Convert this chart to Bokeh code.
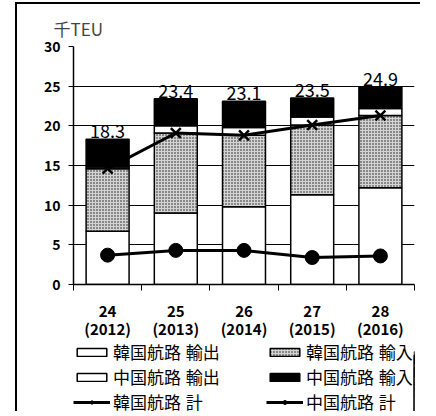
from bokeh.plotting import figure
from bokeh.layouts import column
from bokeh.models import (ColumnDataSource, FixedTicker, LinearAxis, Legend,
                          LegendItem, Range1d, Grid)
from bokeh.core.properties import value
from bokeh.embed import file_html
from bokeh.resources import INLINE

# ---- data (千TEU) ----
fiscal = ["24", "25", "26", "27", "28"]
years = ["(2012)", "(2013)", "(2014)", "(2015)", "(2016)"]
kor_exp = [6.7, 9.0, 9.8, 11.3, 12.2]   # 韓国航路 輸出
kor_imp = [7.9, 10.1, 9.0, 8.8, 9.1]    # 韓国航路 輸入
chn_exp = [0.2, 0.9, 1.0, 1.0, 0.9]     # 中国航路 輸出
chn_imp = [3.5, 3.4, 3.3, 2.4, 2.7]     # 中国航路 輸入
y_ticks = [0, 5, 10, 15, 20, 25, 30]

FONT = "Noto Sans CJK JP"
LEG_FONT = "'Liberation Sans', 'Noto Sans CJK JP'"
n = len(fiscal)
xs = [i + 0.5 for i in range(n)]
top1 = list(kor_exp)
top2 = [a + b for a, b in zip(top1, kor_imp)]
top3 = [a + b for a, b in zip(top2, chn_exp)]
top4 = [a + b for a, b in zip(top3, chn_imp)]
kor_total = [a + b for a, b in zip(kor_exp, kor_imp)]
chn_total = [a + b for a, b in zip(chn_exp, chn_imp)]

src = ColumnDataSource(dict(
    x=xs, b0=[0] * n, t1=top1, t2=top2, t3=top3, t4=top4,
    kt=kor_total, ct=chn_total, lab=[f"{v:.1f}" for v in top4]))

BAR_STYLES = [
    dict(fill_color="white", line_color="black", line_width=1.5),
    dict(fill_color="#d4d4d4", line_color="black", line_width=1.5,
         hatch_pattern="dot", hatch_color="black", hatch_scale=3,
         hatch_weight=1, hatch_alpha=0.9),
    dict(fill_color="white", line_color="black", line_width=1.5),
    dict(fill_color="black", line_color="black", line_width=1.5),
]
BOUNDS = [("b0", "t1"), ("t1", "t2"), ("t2", "t3"), ("t3", "t4")]
LINE_STYLE = dict(line_color="black", line_width=3)
X_STYLE = dict(marker="x", size=14, line_color="black", line_width=2.5)
DOT_STYLE = dict(marker="circle", size=14, fill_color="black", line_color="black")
W = 0.63

p = figure(width=405, height=337, x_range=Range1d(0, n), y_range=Range1d(0, 30),
           output_backend="svg", toolbar_location=None,
           x_axis_type=None, y_axis_type=None,
           min_border_left=50, min_border_right=8, min_border_top=42,
           min_border_bottom=57, title="千TEU")
p.outline_line_color = None
p.background_fill_color = "white"
p.border_fill_color = "white"
p.styles = {"border-left": "2px solid black", "border-top": "2px solid black",
            "margin-left": "15px", "margin-top": "2px"}
p.title.align = "left"
p.title.offset = -20
p.title.text_font = FONT
p.title.text_font_size = "17px"
p.title.text_font_style = "normal"
p.title.standoff = 12

# y axis
yax = LinearAxis(ticker=FixedTicker(ticks=y_ticks))
yax.axis_line_color = "black"
yax.axis_line_width = 1.5
yax.major_tick_out = 5
yax.major_tick_in = 0
yax.minor_tick_line_color = None
yax.major_label_standoff = 8
yax.major_label_text_font = FONT
yax.major_label_text_font_size = "14px"
yax.major_label_text_font_style = "bold"
yax.major_label_text_color = "black"
p.add_layout(yax, "left")
p.add_layout(Grid(dimension=1, ticker=yax.ticker, grid_line_color="black",
                  grid_line_width=1))

# x axes (two label rows)
xax = LinearAxis(ticker=FixedTicker(ticks=xs, minor_ticks=list(range(n + 1))),
                 major_label_overrides={x: l for x, l in zip(xs, fiscal)})
xax.axis_line_color = "black"
xax.axis_line_width = 1.5
xax.major_tick_out = 0
xax.major_tick_in = 0
xax.minor_tick_out = 6
xax.minor_tick_in = 0
xax.minor_tick_line_color = "black"
xax.major_label_standoff = 15
xax.major_label_text_font = FONT
xax.major_label_text_font_size = "15px"
xax.major_label_text_font_style = "bold"
xax.major_label_text_color = "black"
p.add_layout(xax, "below")

xax2 = LinearAxis(ticker=FixedTicker(ticks=xs),
                  major_label_overrides={x: l for x, l in zip(xs, years)})
xax2.axis_line_color = None
xax2.major_tick_line_color = None
xax2.minor_tick_line_color = None
xax2.major_label_standoff = -8
xax2.major_label_text_font = FONT
xax2.major_label_text_font_size = "15px"
xax2.major_label_text_font_style = "bold"
xax2.major_label_text_color = "black"
p.add_layout(xax2, "below")

for (b, t), st in zip(BOUNDS, BAR_STYLES):
    p.vbar(x="x", bottom=b, top=t, width=W, source=src, **st)

p.line(x="x", y="kt", source=src, **LINE_STYLE)
p.scatter(x="x", y="kt", source=src, **X_STYLE)
p.line(x="x", y="ct", source=src, **LINE_STYLE)
p.scatter(x="x", y="ct", source=src, **DOT_STYLE)

p.text(x="x", y="t4", text="lab", source=src, text_align="center",
       text_baseline="bottom", y_offset=-1, text_font=value(FONT),
       text_font_size="18px", text_color="black")

# ---- legend strip below the chart (same series, viewed out of range) ----
q = figure(width=405, height=72, x_range=Range1d(-20, -19), y_range=Range1d(0, 30),
           output_backend="svg", toolbar_location=None,
           x_axis_type=None, y_axis_type=None,
           min_border_left=56, min_border_right=0, min_border_top=0,
           min_border_bottom=0)
q.outline_line_color = None
q.border_fill_color = "white"
q.background_fill_color = "white"
q.styles = {"border-left": "2px solid black", "margin-left": "15px"}
lr = [q.vbar(x="x", bottom=b, top=t, width=W, source=src, **st)
      for (b, t), st in zip(BOUNDS, BAR_STYLES)]
kl = q.line(x="x", y="kt", source=src, **LINE_STYLE)
ks = q.scatter(x="x", y="kt", source=src, **X_STYLE)
cl = q.line(x="x", y="ct", source=src, **LINE_STYLE)
cs = q.scatter(x="x", y="ct", source=src, **DOT_STYLE)

legend = Legend(items=[
    LegendItem(label="韓国航路 輸出", renderers=[lr[0]]),
    LegendItem(label="韓国航路 輸入", renderers=[lr[1]]),
    LegendItem(label="中国航路 輸出", renderers=[lr[2]]),
    LegendItem(label="中国航路 輸入", renderers=[lr[3]]),
    LegendItem(label="韓国航路 計", renderers=[kl, ks]),
    LegendItem(label="中国航路 計", renderers=[cl, cs]),
], ncols=2, orientation="horizontal", location="top_left")
legend.label_text_font = LEG_FONT
legend.label_text_font_size = "17px"
legend.label_text_color = "black"
legend.label_height = 17
legend.label_standoff = 3
legend.label_width = 153
legend.glyph_width = 37
legend.glyph_height = 10
legend.spacing = 0
legend.padding = 0
legend.margin = 0
legend.border_line_color = None
legend.background_fill_alpha = 0
q.add_layout(legend, "center")

layout = column(p, q, spacing=0)
open("out.html", "w").write(file_html(layout, INLINE))
